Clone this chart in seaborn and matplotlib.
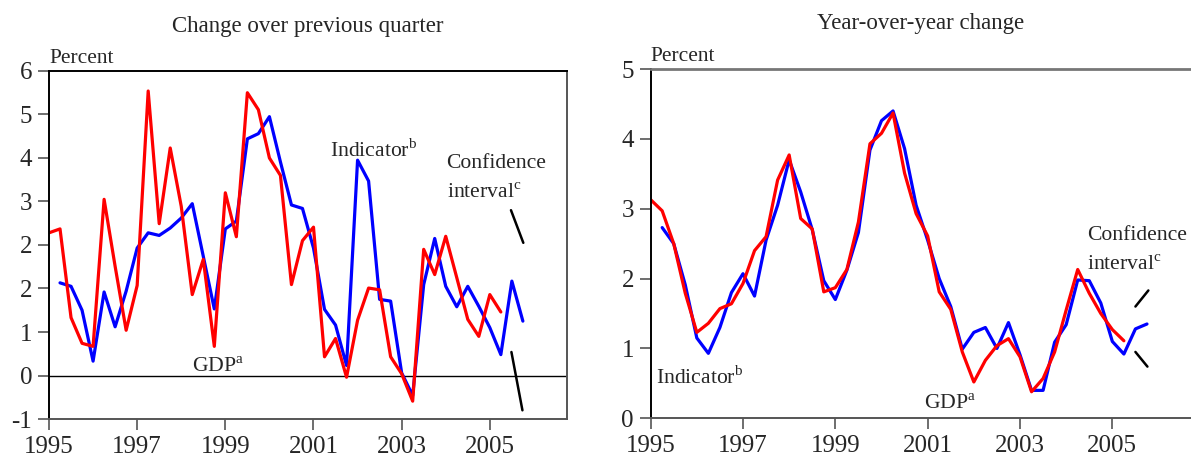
import numpy as np
import pandas as pd
import seaborn as sns
import matplotlib.pyplot as plt


# Quarterly values
quarter_change_gdp = [
    3.28, 3.37, 1.33, 0.74, 0.67, 4.05, 2.51, 1.04, 2.07, 6.54, 3.49, 5.23,
    3.89, 1.86, 2.67, 0.67, 4.20, 3.19, 6.50, 6.11, 5.00, 4.60, 2.09, 3.10,
    3.41, 0.43, 0.85, -0.04, 1.27, 2.01, 1.97, 0.43, 0.04, -0.59, 2.90, 2.32,
    3.20, 2.25, 1.29, 0.90, 1.86, 1.46,
]
quarter_change_indicator = [
    2.13, 2.05, 1.50, 0.33, 1.92, 1.12, 1.94, 2.93, 3.28, 3.22, 3.39, 3.62,
    3.95, 2.74, 1.53, 3.37, 3.55, 5.44, 5.56, 5.95, 4.91, 3.92, 3.84, 2.93,
    1.52, 1.16, 0.23, 4.95, 4.47, 1.75, 1.71, 0.06, -0.46, 2.09, 3.15, 2.05,
    1.58, 2.05, 1.59, 1.10, 0.48, 2.17, 1.25,
]
yoy_gdp = [
    3.13, 2.97, 2.50, 1.79, 1.23, 1.36, 1.57, 1.64, 1.93, 2.40, 2.60, 3.41,
    3.77, 2.86, 2.71, 1.81, 1.87, 2.13, 2.81, 3.93, 4.08, 4.37, 3.51, 2.93,
    2.61, 1.81, 1.56, 0.95, 0.52, 0.83, 1.04, 1.14, 0.88, 0.38, 0.57, 0.95,
    1.55, 2.13, 1.79, 1.50, 1.27, 1.11,
]
yoy_indicator = [
    2.73, 2.50, 1.91, 1.15, 0.93, 1.30, 1.80, 2.07, 1.75, 2.55, 3.05, 3.70,
    3.24, 2.70, 1.97, 1.70, 2.12, 2.66, 3.84, 4.26, 4.40, 3.86, 3.05, 2.55,
    2.00, 1.60, 0.99, 1.23, 1.30, 1.00, 1.37, 0.91, 0.40, 0.40, 1.09, 1.34,
    1.98, 1.97, 1.65, 1.10, 0.92, 1.28, 1.35,
]
gdp_start = 1995.0
indicator_start = 1995.25

year_ticks = [1995, 1997, 1999, 2001, 2003, 2005]
left_ytick_pos = [-1, 0, 1, 2, 3, 4, 5, 6, 7]
left_ytick_labels = ['-1', '0', '1', '2', '2', '3', '4', '5', '6']
right_ytick_pos = [0, 1, 2, 3, 4, 5]

# confidence interval marks (x pair, y pair)
ci_left = [([2005.48, 2005.76], [3.80, 3.05]), ([2005.49, 2005.74], [0.54, -0.80])]
ci_right = [([2005.50, 2005.78], [1.60, 1.83]), ([2005.50, 2005.76], [0.95, 0.74])]


def to_frame(gdp, indicator):
    g = pd.DataFrame({'date': gdp_start + 0.25 * np.arange(len(gdp)),
                      'value': gdp, 'series': 'GDP'})
    i = pd.DataFrame({'date': indicator_start + 0.25 * np.arange(len(indicator)),
                      'value': indicator, 'series': 'Indicator'})
    return pd.concat([i, g], ignore_index=True)


sns.set_style('white')
plt.rcParams['font.family'] = ['Liberation Serif', 'DejaVu Serif']
plt.rcParams['mathtext.fontset'] = 'custom'
plt.rcParams['mathtext.rm'] = 'Liberation Serif'

fig = plt.figure(figsize=(11.91, 4.61), dpi=100)
ax1 = fig.add_axes([0.04114, 0.0911, 0.4349, 0.7549])
ax2 = fig.add_axes([0.5463, 0.0926, 0.4555, 0.7577])

palette = {'Indicator': '#0000ff', 'GDP': '#ff0000'}
ann_size = 15.6

for ax, gdp, ind in [(ax1, quarter_change_gdp, quarter_change_indicator),
                     (ax2, yoy_gdp, yoy_indicator)]:
    df = to_frame(gdp, ind)
    sns.lineplot(data=df, x='date', y='value', hue='series', palette=palette,
                 linewidth=2.3, legend=False, ax=ax)
    ax.set_xlim(1995, 2006.75)
    ax.set_xticks(year_ticks)
    ax.set_xticklabels([str(y) for y in year_ticks])
    ax.set_xlabel('')
    ax.set_ylabel('')
    ax.tick_params(axis='both', labelsize=18, direction='out', length=8,
                   width=1.2, color='#555555', pad=4, bottom=True, left=True)
    ax.spines['left'].set_color('black')
    ax.spines['bottom'].set_color('#555555')
    for s in ax.spines.values():
        s.set_linewidth(1.4)
    ax.text(0, 1.023, 'Percent', transform=ax.transAxes, fontsize=15.5,
            va='baseline', ha='left')

# left panel
ax1.set_ylim(-1, 7)
ax1.set_yticks(left_ytick_pos)
ax1.set_yticklabels(left_ytick_labels)
ax1.axhline(0, color='black', linewidth=1.0, zorder=1)
ax1.spines['top'].set_color('black')
ax1.spines['right'].set_color('#555555')
for xs, ys in ci_left:
    ax1.plot(xs, ys, color='black', linewidth=1.8)
ax1.text(2001.37, 5.03, r'Indicator$^{\mathrm{b}}$', fontsize=ann_size, va='baseline')
ax1.text(2004.02, 4.76, 'Confidence', fontsize=ann_size, va='baseline')
ax1.text(2004.02, 4.07, r'interval$^{\mathrm{c}}$', fontsize=ann_size, va='baseline')
ax1.text(1998.24, 0.07, r'GDP$^{\mathrm{a}}$', fontsize=ann_size, va='baseline')

# right panel
ax2.set_ylim(0, 5)
ax2.set_yticks(right_ytick_pos)
ax2.set_yticklabels([str(v) for v in right_ytick_pos])
ax2.spines['top'].set_color('#777777')
ax2.spines['top'].set_linewidth(2)
ax2.spines['right'].set_visible(False)
for xs, ys in ci_right:
    ax2.plot(xs, ys, color='black', linewidth=1.8)
ax2.text(1995.11, 0.50, r'Indicator$^{\mathrm{b}}$', fontsize=ann_size, va='baseline')
ax2.text(2000.92, 0.13, r'GDP$^{\mathrm{a}}$', fontsize=ann_size, va='baseline')
ax2.text(2004.46, 2.55, 'Confidence', fontsize=ann_size, va='baseline')
ax2.text(2004.46, 2.13, r'interval$^{\mathrm{c}}$', fontsize=ann_size, va='baseline')

fig.text(308 / 1191, 1 - 32 / 461, 'Change over previous quarter', fontsize=16.5,
         ha='center', va='baseline')
fig.text(921 / 1191, 1 - 29 / 461, 'Year-over-year change', fontsize=16.5,
         ha='center', va='baseline')

fig.savefig('out.png', dpi=100)
